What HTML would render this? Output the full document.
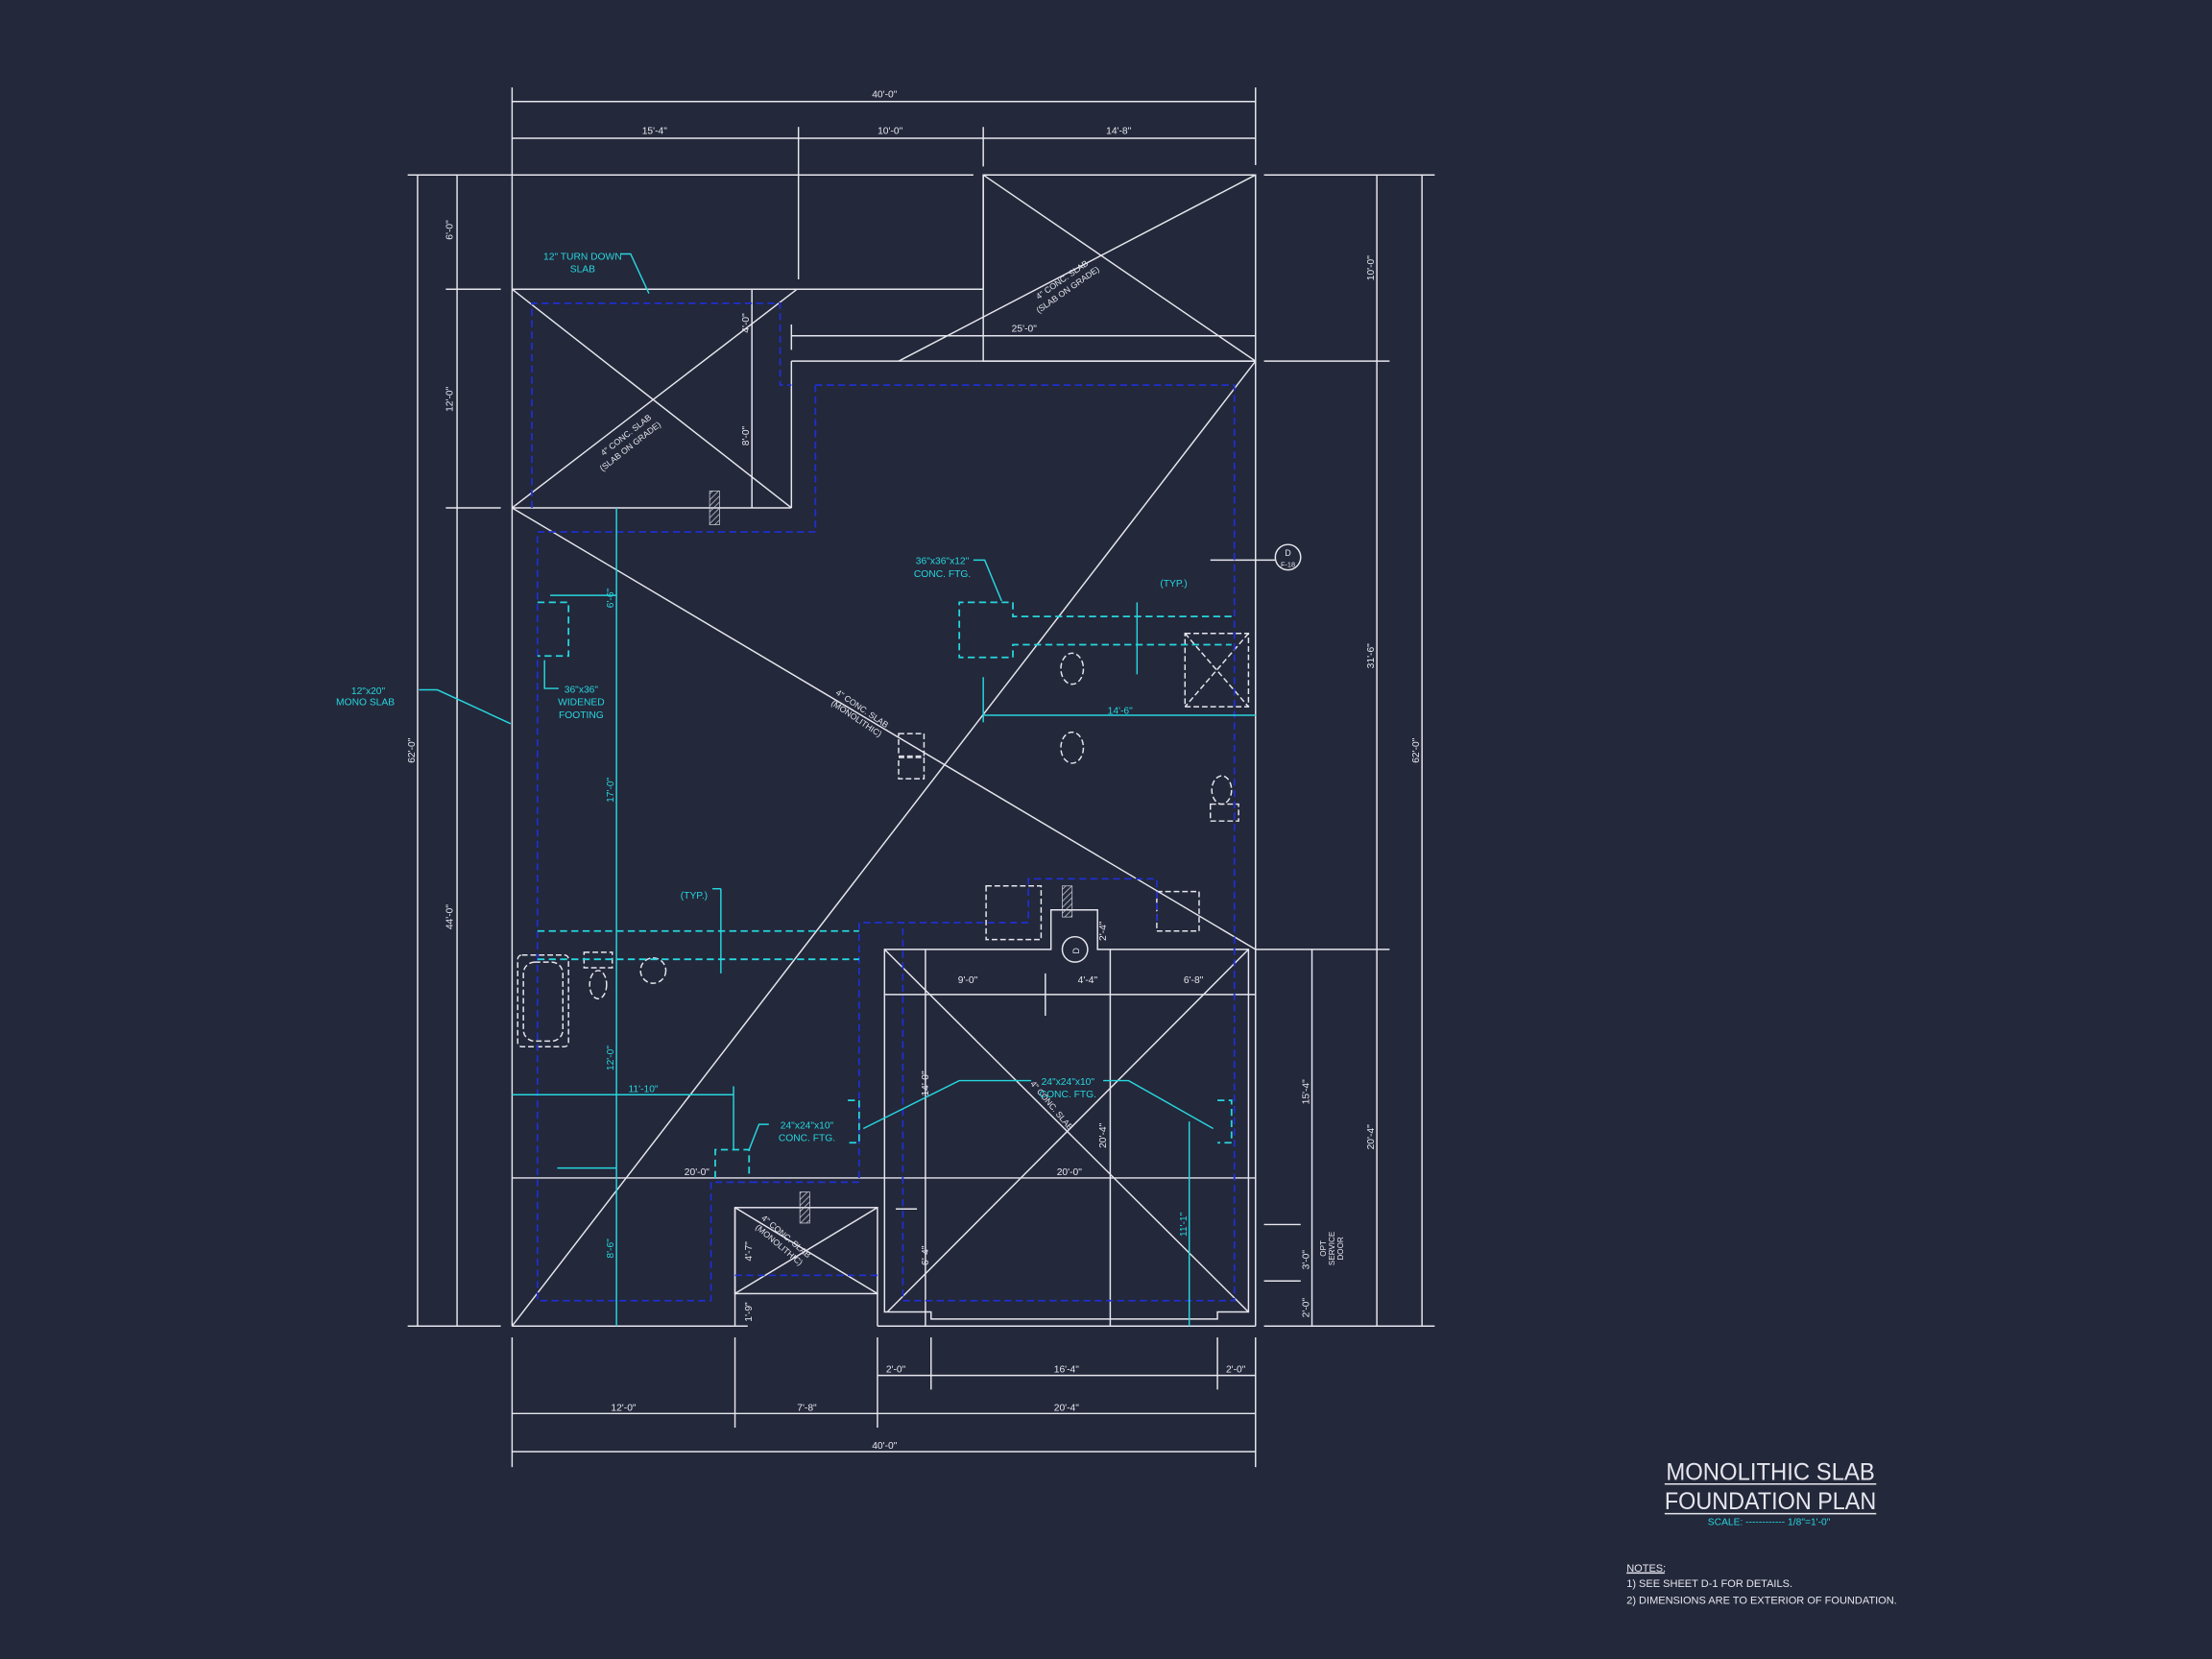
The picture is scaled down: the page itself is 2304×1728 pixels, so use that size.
<!DOCTYPE html>
<html><head><meta charset="utf-8"><style>
html,body{margin:0;padding:0;background:#23283a;}
svg{display:block}
text{font-family:"Liberation Sans",sans-serif;}
</style></head><body>
<svg width="2304" height="1728" viewBox="0 0 1568 1176" xmlns="http://www.w3.org/2000/svg">
<defs>
<pattern id="h" width="3" height="3" patternUnits="userSpaceOnUse" patternTransform="rotate(45)">
<line x1="0" y1="0" x2="0" y2="3" stroke="#cfcfd8" stroke-width="1"/>
</pattern>
</defs>
<rect width="1568" height="1176" fill="#23283a"/>
<g stroke="#e6e6ee" stroke-width="1" fill="none">
<line x1="363" y1="72" x2="890" y2="72"/>
<line x1="363" y1="98" x2="890" y2="98"/>
<line x1="363" y1="62" x2="363" y2="124"/>
<line x1="890" y1="62" x2="890" y2="117"/>
<line x1="566" y1="90" x2="566" y2="198"/>
<line x1="697" y1="90" x2="697" y2="118"/>
<line x1="289" y1="124" x2="690" y2="124"/>
<line x1="697" y1="124" x2="890" y2="124"/>
<line x1="896" y1="124" x2="1017" y2="124"/>
<line x1="316" y1="205" x2="355" y2="205"/>
<line x1="316" y1="360" x2="355" y2="360"/>
<line x1="289" y1="940" x2="355" y2="940"/>
<line x1="896" y1="940" x2="1017" y2="940"/>
<line x1="896" y1="256" x2="985" y2="256"/>
<line x1="890" y1="673" x2="985" y2="673"/>
<line x1="296" y1="124" x2="296" y2="940"/>
<line x1="324" y1="124" x2="324" y2="940"/>
<line x1="976" y1="124" x2="976" y2="940"/>
<line x1="1008" y1="124" x2="1008" y2="940"/>
<line x1="930" y1="673" x2="930" y2="940"/>
<line x1="896" y1="868" x2="922" y2="868"/>
<line x1="896" y1="908" x2="922" y2="908"/>
<line x1="363" y1="124" x2="363" y2="940"/>
<line x1="363" y1="205" x2="697" y2="205"/>
<line x1="697" y1="124" x2="697" y2="205"/>
<rect x="697" y="124" width="193" height="132"/>
<line x1="697" y1="124" x2="890" y2="256"/>
<line x1="890" y1="124" x2="637" y2="256"/>
<line x1="561" y1="238" x2="890" y2="238"/>
<line x1="561" y1="230" x2="561" y2="248"/>
<line x1="561" y1="256" x2="890" y2="256"/>
<line x1="561" y1="256" x2="561" y2="360"/>
<line x1="363" y1="360" x2="561" y2="360"/>
<line x1="533" y1="205" x2="533" y2="360"/>
<line x1="363" y1="205" x2="561" y2="360"/>
<line x1="565" y1="205" x2="363" y2="360"/>
<line x1="890" y1="256" x2="890" y2="940"/>
<line x1="363" y1="360" x2="890" y2="673"/>
<line x1="890" y1="256" x2="363" y2="940"/>
<line x1="363" y1="835" x2="890" y2="835"/>
<line x1="363" y1="940" x2="521" y2="940"/>
<rect x="521" y="856" width="101" height="61"/>
<line x1="521" y1="856" x2="622" y2="917"/>
<line x1="622" y1="856" x2="521" y2="917"/>
<line x1="521" y1="856" x2="521" y2="940"/>
<line x1="521" y1="940" x2="530" y2="940"/>
<line x1="635" y1="857" x2="650" y2="857"/>
<path d="M627 673 H745 V645 H778 V673 H885 V930 H863 V935 H660 V930 H627 Z"/>
<line x1="627" y1="673" x2="885" y2="930"/>
<line x1="885" y1="673" x2="629" y2="930"/>
<line x1="627" y1="705" x2="890" y2="705"/>
<line x1="656" y1="673" x2="656" y2="940"/>
<line x1="787" y1="673" x2="787" y2="940"/>
<line x1="741" y1="690" x2="741" y2="720"/>
<line x1="622" y1="940" x2="890" y2="940"/>
<line x1="622" y1="917" x2="622" y2="940"/>
<line x1="622" y1="975" x2="890" y2="975"/>
<line x1="363" y1="1002" x2="890" y2="1002"/>
<line x1="363" y1="1029" x2="890" y2="1029"/>
<line x1="363" y1="948" x2="363" y2="1040"/>
<line x1="890" y1="948" x2="890" y2="1040"/>
<line x1="521" y1="948" x2="521" y2="1012"/>
<line x1="622" y1="948" x2="622" y2="1012"/>
<line x1="660" y1="948" x2="660" y2="985"/>
<line x1="863" y1="948" x2="863" y2="985"/>
<line x1="1180" y1="1052" x2="1330" y2="1052"/>
<line x1="1180" y1="1073" x2="1330" y2="1073"/>
<line x1="1153" y1="1115" x2="1180" y2="1115"/>
</g>
<g stroke="#e6e6ee" stroke-width="1" fill="none" stroke-dasharray="4 2">
<rect x="367" y="677" width="36" height="65" rx="3"/>
<rect x="371" y="682" width="28" height="56" rx="8"/>
<rect x="414" y="675" width="20" height="11"/>
<ellipse cx="424" cy="698" rx="6" ry="10"/>
<circle cx="463" cy="688" r="9"/>
<ellipse cx="760" cy="474" rx="8" ry="11"/>
<ellipse cx="760" cy="530" rx="8" ry="11"/>
<ellipse cx="866" cy="560" rx="7" ry="10"/>
<rect x="858" y="570" width="20" height="12"/>
<rect x="637" y="520" width="18" height="16"/>
<rect x="637" y="537" width="18" height="15"/>
<rect x="840" y="449" width="45" height="52"/>
<line x1="840" y1="449" x2="885" y2="501"/>
<line x1="885" y1="449" x2="840" y2="501"/>
<rect x="699" y="628" width="39" height="38"/>
<rect x="820" y="632" width="30" height="28"/>
</g>
<circle cx="762" cy="673" r="9" stroke="#e6e6ee" fill="none"/>
<circle cx="913" cy="395" r="9" stroke="#e6e6ee" fill="none"/>
<line x1="858" y1="397" x2="904" y2="397" stroke="#e6e6ee"/>
<g fill="url(#h)" stroke="#cfcfd8" stroke-width="0.5">
<rect x="503" y="348" width="7" height="24"/>
<rect x="753" y="628" width="7" height="22"/>
<rect x="567" y="845" width="7" height="22"/>
</g>
<g stroke="#1f2fd0" stroke-width="1.2" fill="none" stroke-dasharray="5 3">
<path d="M377 360 V215 H553 V273 H561"/>
<path d="M578 273 H875 V922 H640 V654"/>
<path d="M578 273 V377 H381 V922 H504 V838 H532 M532 838 H609 V654 H729 V623 H820 V654"/>
<line x1="521" y1="904" x2="623" y2="904"/>
</g>
<g stroke="#27d6de" stroke-width="1" fill="none">
<line x1="437" y1="360" x2="437" y2="940"/>
<line x1="390" y1="422" x2="437" y2="422"/>
<line x1="395" y1="828" x2="437" y2="828"/>
<line x1="363" y1="776" x2="520" y2="776"/>
<line x1="520" y1="770" x2="520" y2="815"/>
<line x1="697" y1="507" x2="890" y2="507"/>
<line x1="697" y1="480" x2="697" y2="512"/>
<line x1="806" y1="427" x2="806" y2="478"/>
<line x1="511" y1="630" x2="511" y2="690"/>
<line x1="505" y1="630" x2="511" y2="630"/>
<line x1="843" y1="795" x2="843" y2="940"/>
<polyline points="440,180 447,180 460,208"/>
<polyline points="297,489 310,489 362,513"/>
<polyline points="690,397 698,397 710,426"/>
<polyline points="386,468 386,488 396,488"/>
<polyline points="545,797 538,797 531,815"/>
<polyline points="731,766 680,766 612,800"/>
<polyline points="782,766 800,766 860,800"/>
</g>
<g stroke="#27d6de" stroke-width="1.2" fill="none" stroke-dasharray="5 3">
<path d="M381 427 H403 V465 H381"/>
<path d="M873 437 H718 V427 H680 V466 H718 V457 H873"/>
<line x1="381" y1="660" x2="609" y2="660"/>
<line x1="381" y1="680" x2="609" y2="680"/>
<path d="M507 835 V815 H531 V835"/>
<path d="M601 780 H609 V810 H601"/>
<path d="M863 780 H873 V810 H863"/>
</g>
<g fill="#e6e6ee" font-size="7" text-anchor="middle">
<text x="627" y="69">40'-0"</text>
<text x="464" y="95">15'-4"</text>
<text x="631" y="95">10'-0"</text>
<text x="793" y="95">14'-8"</text>
<text x="726" y="235">25'-0"</text>
<text x="686" y="697">9'-0"</text>
<text x="771" y="697">4'-4"</text>
<text x="846" y="697">6'-8"</text>
<text x="494" y="833">20'-0"</text>
<text x="758" y="833">20'-0"</text>
<text x="635" y="973">2'-0"</text>
<text x="756" y="973">16'-4"</text>
<text x="876" y="973">2'-0"</text>
<text x="442" y="1000">12'-0"</text>
<text x="572" y="1000">7'-8"</text>
<text x="756" y="1000">20'-4"</text>
<text x="627" y="1027">40'-0"</text>
<text transform="translate(321,163) rotate(-90)">6'-0"</text>
<text transform="translate(321,283) rotate(-90)">12'-0"</text>
<text transform="translate(321,650) rotate(-90)">44'-0"</text>
<text transform="translate(294,532) rotate(-90)">62'-0"</text>
<text transform="translate(974,190) rotate(-90)">10'-0"</text>
<text transform="translate(974,465) rotate(-90)">31'-6"</text>
<text transform="translate(974,806) rotate(-90)">20'-4"</text>
<text transform="translate(1006,532) rotate(-90)">62'-0"</text>
<text transform="translate(928,774) rotate(-90)">15'-4"</text>
<text transform="translate(928,893) rotate(-90)">3'-0"</text>
<text transform="translate(928,927) rotate(-90)">2'-0"</text>
<text transform="translate(531,229) rotate(-90)">4'-0"</text>
<text transform="translate(531,309) rotate(-90)">8'-0"</text>
<text transform="translate(784,660) rotate(-90)">2'-4"</text>
<text transform="translate(658,768) rotate(-90)">14'-0"</text>
<text transform="translate(784,805) rotate(-90)">20'-4"</text>
<text transform="translate(658,890) rotate(-90)">6'-4"</text>
<text transform="translate(533,887) rotate(-90)">4'-7"</text>
<text transform="translate(533,930) rotate(-90)">1'-9"</text>
<text transform="translate(940,885) rotate(-90)" font-size="5.5">OPT</text>
<text transform="translate(946,885) rotate(-90)" font-size="5.5">SERVICE</text>
<text transform="translate(952,885) rotate(-90)" font-size="5.5">DOOR</text>
<text transform="translate(445,310) rotate(-38)" font-size="6">4" CONC. SLAB</text>
<text transform="translate(448,318) rotate(-38)" font-size="6">(SLAB ON GRADE)</text>
<text transform="translate(754,200) rotate(-35)" font-size="6">4" CONC. SLAB</text>
<text transform="translate(758,207) rotate(-35)" font-size="6">(SLAB ON GRADE)</text>
<text transform="translate(610,504) rotate(34)" font-size="6">4" CONC. SLAB</text>
<text transform="translate(606,511) rotate(34)" font-size="6">(MONOLITHIC)</text>
<text transform="translate(744,785) rotate(50)" font-size="6">4" CONC. SLAB</text>
<text transform="translate(556,878) rotate(40)" font-size="6">4" CONC. SLAB</text>
<text transform="translate(551,884) rotate(40)" font-size="6">(MONOLITHIC)</text>
<text x="913" y="394" font-size="6">D</text>
<text x="913" y="402" font-size="5">F-18</text>
<text transform="translate(765,674) rotate(-90)" font-size="6">D</text>
</g>
<g fill="#27d6de" font-size="7" text-anchor="middle">
<text x="413" y="184">12" TURN DOWN</text>
<text x="413" y="193">SLAB</text>
<text x="261" y="492">12"x20"</text>
<text x="259" y="500">MONO SLAB</text>
<text x="412" y="491">36"x36"</text>
<text x="412" y="500">WIDENED</text>
<text x="412" y="509">FOOTING</text>
<text x="668" y="400">36"x36"x12"</text>
<text x="668" y="409">CONC. FTG.</text>
<text x="832" y="416">(TYP.)</text>
<text x="492" y="637">(TYP.)</text>
<text x="794" y="506">14'-6"</text>
<text x="456" y="774">11'-10"</text>
<text x="572" y="800">24"x24"x10"</text>
<text x="572" y="809">CONC. FTG.</text>
<text x="757" y="769">24"x24"x10"</text>
<text x="757" y="778">CONC. FTG.</text>
<text transform="translate(435,424) rotate(-90)">6'-6"</text>
<text transform="translate(435,560) rotate(-90)">17'-0"</text>
<text transform="translate(435,750) rotate(-90)">12'-0"</text>
<text transform="translate(435,885) rotate(-90)">8'-6"</text>
<text transform="translate(841,868) rotate(-90)">11'-1"</text>
</g>
<g fill="#e6e6ee" text-anchor="middle">
<text x="1255" y="1049" font-size="17" textLength="148" lengthAdjust="spacingAndGlyphs">MONOLITHIC SLAB</text>
<text x="1255" y="1070" font-size="17" textLength="150" lengthAdjust="spacingAndGlyphs">FOUNDATION PLAN</text>
</g>
<text x="1254" y="1081" fill="#27d6de" font-size="7" text-anchor="middle">SCALE: ------------ 1/8"=1'-0"</text>
<g fill="#e6e6ee" font-size="7.5">
<text x="1153" y="1114">NOTES:</text>
<text x="1153" y="1125">1)  SEE SHEET D-1 FOR DETAILS.</text>
<text x="1153" y="1137">2)  DIMENSIONS ARE TO EXTERIOR OF FOUNDATION.</text>
</g>
</svg>
</body></html>
